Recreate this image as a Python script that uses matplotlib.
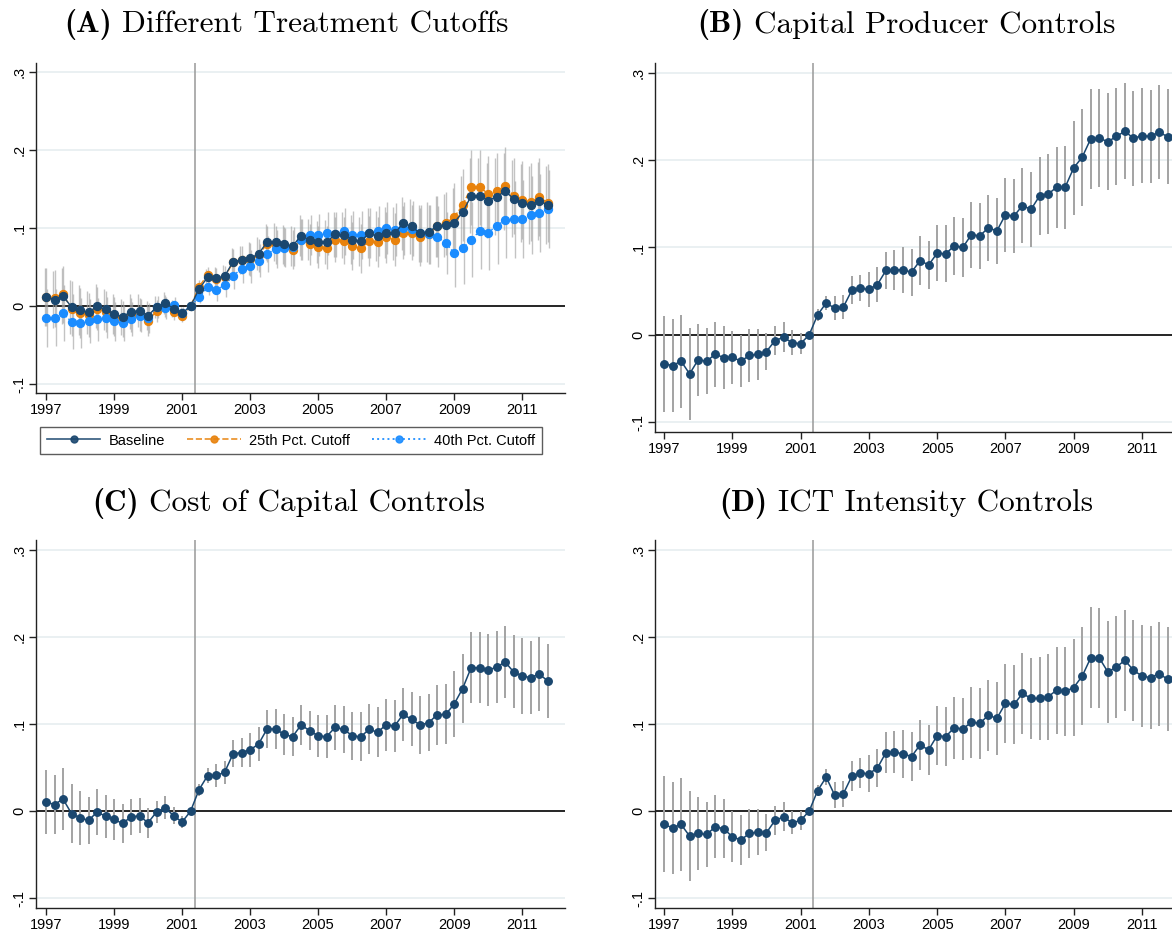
import numpy as np
import matplotlib
matplotlib.use("Agg")
import matplotlib.pyplot as plt
from matplotlib.lines import Line2D

plt.rcParams['font.family'] = ['Liberation Sans', 'DejaVu Sans']

# quarters 1997q1 .. 2011q4
years = list(range(1997, 2012))
quarters = np.array([y + q / 4 for y in years for q in range(4)])
xticks = [1997, 1999, 2001, 2003, 2005, 2007, 2009, 2011]
yticks = [-0.1, 0, 0.1, 0.2, 0.3]
ytick_labels = ['-.1', '0', '.1', '.2', '.3']
event_line = 2001.375

# (A) different treatment cutoffs
base_a = [0.0115, 0.0085, 0.013, -0.001, -0.005, -0.008, 0.000, -0.004, -0.010, -0.0135,
          -0.007, -0.006, -0.012, -0.001, 0.004, -0.003, -0.009, 0.0, 0.022, 0.037,
          0.036, 0.038, 0.057, 0.059, 0.061, 0.067, 0.082, 0.082, 0.079, 0.077,
          0.090, 0.085, 0.082, 0.082, 0.092, 0.091, 0.085, 0.083, 0.093, 0.090,
          0.094, 0.093, 0.106, 0.102, 0.093, 0.095, 0.1025, 0.1035, 0.107, 0.120,
          0.141, 0.1415, 0.135, 0.140, 0.147, 0.1375, 0.1315, 0.1295, 0.135, 0.129]
pct25_a = [0.012, 0.010, 0.015, -0.003, -0.009, -0.0115, -0.003, -0.007, -0.0135, -0.016,
           -0.0115, -0.011, -0.019, -0.006, 0.000, -0.007, -0.012, 0.0, 0.025, 0.040,
           0.035, 0.037, 0.056, 0.059, 0.060, 0.065, 0.080, 0.078, 0.076, 0.072,
           0.085, 0.079, 0.076, 0.075, 0.085, 0.084, 0.077, 0.074, 0.083, 0.082,
           0.088, 0.085, 0.094, 0.094, 0.088, 0.092, 0.102, 0.106, 0.114, 0.129,
           0.152, 0.152, 0.144, 0.147, 0.154, 0.141, 0.136, 0.133, 0.140, 0.132]
pct40_a = [-0.015, -0.0145, -0.009, -0.020, -0.021, -0.019, -0.017, -0.0145, -0.019, -0.022,
           -0.016, -0.012, -0.015, -0.001, -0.002, 0.001, -0.0085, 0.0, 0.0115, 0.024,
           0.021, 0.0265, 0.039, 0.048, 0.051, 0.058, 0.067, 0.073, 0.075, 0.076,
           0.085, 0.091, 0.091, 0.093, 0.092, 0.096, 0.091, 0.091, 0.094, 0.096,
           0.100, 0.098, 0.0995, 0.099, 0.093, 0.092, 0.089, 0.081, 0.068, 0.074,
           0.085, 0.096, 0.094, 0.103, 0.110, 0.111, 0.111, 0.117, 0.119, 0.124]
ci_a = [0.037, 0.036, 0.036, 0.035, 0.032, 0.028, 0.028, 0.026, 0.025, 0.023,
        0.022, 0.021, 0.019, 0.014, 0.014, 0.011, 0.008, 0.0, 0.008, 0.010,
        0.014, 0.015, 0.017, 0.018, 0.021, 0.021, 0.023, 0.024, 0.025, 0.025,
        0.026, 0.026, 0.027, 0.028, 0.029, 0.030, 0.031, 0.031, 0.032, 0.032,
        0.033, 0.034, 0.034, 0.035, 0.037, 0.038, 0.039, 0.040, 0.044, 0.046,
        0.048, 0.048, 0.048, 0.049, 0.049, 0.049, 0.050, 0.050, 0.050, 0.050]

# (B) capital producer controls
est_b = [-0.033, -0.035, -0.030, -0.0445, -0.0285, -0.030, -0.022, -0.026, -0.0255, -0.030,
         -0.0235, -0.022, -0.019, -0.0065, -0.0027, -0.0088, -0.010, 0.0, 0.023, 0.0366,
         0.0305, 0.0317, 0.051, 0.0534, 0.052, 0.0576, 0.0737, 0.0744, 0.0744, 0.0718,
         0.085, 0.080, 0.0935, 0.0927, 0.102, 0.100, 0.1145, 0.1134, 0.1225, 0.119,
         0.1374, 0.136, 0.148, 0.1435, 0.159, 0.161, 0.169, 0.169, 0.191, 0.2034,
         0.2244, 0.225, 0.221, 0.227, 0.233, 0.2248, 0.228, 0.227, 0.232, 0.2267]
ci_b = [0.055, 0.053, 0.053, 0.053, 0.0415, 0.038, 0.037, 0.036, 0.0305, 0.030,
        0.030, 0.029, 0.021, 0.017, 0.017, 0.014, 0.012, 0.0, 0.0065, 0.0085,
        0.0135, 0.0135, 0.016, 0.015, 0.020, 0.020, 0.0215, 0.0225, 0.026, 0.027,
        0.028, 0.0275, 0.032, 0.0325, 0.033, 0.0335, 0.0375, 0.038, 0.038, 0.038,
        0.042, 0.042, 0.043, 0.0425, 0.045, 0.0455, 0.0465, 0.0475, 0.054, 0.0555,
        0.057, 0.056, 0.0555, 0.055, 0.055, 0.054, 0.054, 0.0535, 0.054, 0.054]

# (C) cost of capital controls
est_c = [0.0106, 0.0076, 0.014, -0.0027, -0.0076, -0.0106, -0.001, -0.0057, -0.0095, -0.014,
         -0.0065, -0.0053, -0.0133, -0.0008, 0.0038, -0.005, -0.0125, 0.0, 0.0247, 0.0407,
         0.041, 0.0445, 0.0658, 0.0673, 0.0703, 0.077, 0.0943, 0.0943, 0.088, 0.0855,
         0.0989, 0.0924, 0.0863, 0.0855, 0.0962, 0.0939, 0.0867, 0.0852, 0.0939, 0.0905,
         0.0992, 0.0977, 0.111, 0.1053, 0.0989, 0.1015, 0.1106, 0.111, 0.1228, 0.1407,
         0.1646, 0.1646, 0.1616, 0.1654, 0.1711, 0.1597, 0.1551, 0.1532, 0.1574, 0.1494]
ci_c = [0.0365, 0.0343, 0.0354, 0.0343, 0.031, 0.0265, 0.0265, 0.0245, 0.0237, 0.022,
        0.021, 0.020, 0.0175, 0.0127, 0.0133, 0.010, 0.0065, 0.0, 0.0068, 0.0087,
        0.0128, 0.0135, 0.0155, 0.0162, 0.0197, 0.0195, 0.0213, 0.0228, 0.023, 0.0225,
        0.0232, 0.0226, 0.0242, 0.0246, 0.026, 0.0266, 0.0275, 0.028, 0.0285, 0.0285,
        0.0297, 0.0302, 0.0304, 0.031, 0.0328, 0.033, 0.0343, 0.0345, 0.0381, 0.0393,
        0.0405, 0.041, 0.0411, 0.0413, 0.041, 0.0418, 0.0432, 0.0419, 0.0424, 0.0428]

# (D) ICT intensity controls
est_d = [-0.0152, -0.019, -0.0152, -0.0285, -0.0255, -0.0266, -0.0179, -0.020, -0.0293, -0.033,
         -0.0255, -0.024, -0.0247, -0.0106, -0.0065, -0.0133, -0.0106, 0.0, 0.0236, 0.039,
         0.0183, 0.0198, 0.040, 0.0437, 0.043, 0.0494, 0.0673, 0.0677, 0.0658, 0.0627,
         0.076, 0.0703, 0.0867, 0.0855, 0.0958, 0.0943, 0.1019, 0.1008, 0.110, 0.1065,
         0.1236, 0.1224, 0.135, 0.1293, 0.1293, 0.1312, 0.1388, 0.1373, 0.1418, 0.155,
         0.176, 0.1757, 0.1597, 0.1654, 0.173, 0.1616, 0.155, 0.1532, 0.1578, 0.1513]
ci_d = [0.055, 0.053, 0.053, 0.052, 0.042, 0.037, 0.036, 0.034, 0.029, 0.029,
        0.028, 0.0265, 0.021, 0.0165, 0.0165, 0.013, 0.011, 0.0, 0.0065, 0.009,
        0.015, 0.015, 0.017, 0.017, 0.021, 0.0217, 0.023, 0.024, 0.0275, 0.028,
        0.029, 0.029, 0.0335, 0.034, 0.0355, 0.0357, 0.0405, 0.0405, 0.041, 0.042,
        0.045, 0.0455, 0.0467, 0.0467, 0.048, 0.049, 0.050, 0.0506, 0.0557, 0.056,
        0.0577, 0.057, 0.058, 0.058, 0.058, 0.058, 0.0589, 0.059, 0.0596, 0.0595]

navy = '#1a476f'
orange = '#e8820c'
blue = '#1a8cff'
bar_gray = '#a3a3a3'
grid_col = '#e6eef0'

W, H = 1172, 930


def frame(rect, xlim_left):
    # rect in pixels: left, top, right, bottom
    l, t, r, b = rect
    ax = plt.gcf().add_axes([l / W, 1 - b / H, (r - l) / W, (b - t) / H])
    ax.set_xlim(xlim_left, 2012.26)
    ax.set_ylim(-0.111, 0.311)
    for y in [-0.1, 0.1, 0.2, 0.3]:
        ax.axhline(y, color=grid_col, lw=1.2, zorder=0)
    ax.axhline(0, color='black', lw=1.2, zorder=1)
    ax.axvline(event_line, color='#999999', lw=1.1, zorder=1)
    ax.spines['top'].set_visible(False)
    ax.spines['right'].set_visible(False)
    for s in ['left', 'bottom']:
        ax.spines[s].set_color('#222222')
        ax.spines[s].set_linewidth(1.0)
    ax.set_xticks(xticks)
    ax.set_xticklabels([str(x) for x in xticks])
    ax.set_yticks(yticks)
    ax.set_yticklabels(ytick_labels, rotation=90, va='center')
    ax.tick_params(labelsize=10.5, length=5, width=1, color='#222222', pad=2)
    return ax


def single_panel(rect, est, ci, xlim_left):
    ax = frame(rect, xlim_left)
    est = np.array(est)
    ci = np.array(ci)
    ax.vlines(quarters, est - ci, est + ci, color=bar_gray, lw=1.4, zorder=2)
    ax.plot(quarters, est, '-o', color=navy, lw=1.1, ms=5.4, zorder=3)
    return ax


def title(fig, cx, cy, tag, txt, size=22.5):
    # bold tag + roman text, centred as one line
    r = fig.canvas.get_renderer()
    t1 = fig.text(0, 1 - cy / H, tag, family='cmb10', size=size, va='center')
    t2 = fig.text(0, 1 - cy / H, txt, family='cmr10', size=size, va='center')
    w1 = t1.get_window_extent(r).width
    w2 = t2.get_window_extent(r).width
    gap = 0.33 * size * 100 / 72
    x0 = cx - (w1 + gap + w2) / 2
    t1.set_x(x0 / W)
    t2.set_x((x0 + w1 + gap) / W)


fig = plt.figure(figsize=(W / 100, H / 100), dpi=100)

# panel A with three series
ax = frame((36, 63, 565, 393), 1996.706)
ci = np.array(ci_a)
for vals, dx in [(base_a, -0.035), (pct25_a, 0.0), (pct40_a, 0.035)]:
    v = np.array(vals)
    ax.vlines(quarters + dx, v - ci, v + ci, color=bar_gray, lw=1.0, alpha=0.65, zorder=2)
ax.plot(quarters, pct25_a, '--o', color=orange, lw=1.0, ms=5.7, zorder=3)
ax.plot(quarters, pct40_a, ':o', color=blue, lw=1.0, ms=5.7, zorder=4)
ax.plot(quarters, base_a, '-o', color=navy, lw=1.0, ms=5.7, zorder=5)

handles = [Line2D([], [], color=navy, ls='-', marker='o', ms=5, lw=1.2, alpha=0.9),
           Line2D([], [], color=orange, ls='--', marker='o', ms=5, lw=1.2, alpha=0.9),
           Line2D([], [], color=blue, ls=':', marker='o', ms=5, lw=1.4, alpha=0.9)]
leg = fig.legend(handles, ['Baseline', '25th Pct. Cutoff', '40th Pct. Cutoff'],
                 loc='center', bbox_to_anchor=(291 / W, 1 - 440.5 / H), ncol=3,
                 fontsize=10.5, handlelength=3.7, handletextpad=0.6, columnspacing=1.45,
                 fancybox=False, edgecolor='#333333', borderpad=0.45)
leg.get_frame().set_linewidth(1.0)

single_panel((655, 63, 1185, 432), est_b, ci_b, 1996.736)
single_panel((36, 540, 565, 908), est_c, ci_c, 1996.706)
single_panel((655, 540, 1185, 908), est_d, ci_d, 1996.736)

title(fig, 286.5, 25, '(A)', 'Different Treatment Cutoffs')
title(fig, 906.5, 25, '(B)', 'Capital Producer Controls')
title(fig, 288.5, 503, '(C)', 'Cost of Capital Controls')
title(fig, 906.5, 503, '(D)', 'ICT Intensity Controls')

fig.savefig('out.png', dpi=100)
